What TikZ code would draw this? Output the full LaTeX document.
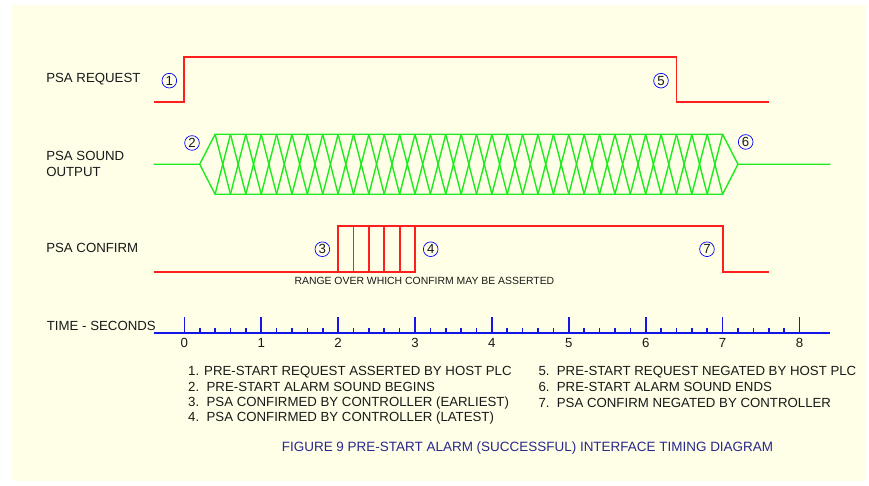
\documentclass[tikz,border=0pt]{standalone}
\usepackage{fontspec}
\setmainfont{Liberation Sans}
\definecolor{paper}{RGB}{255,255,232}
\definecolor{sigred}{RGB}{255,30,30}
\definecolor{siggreen}{RGB}{30,235,30}
\definecolor{axisblue}{RGB}{20,20,235}
\definecolor{captionblue}{RGB}{40,40,140}

\begin{document}
\begin{tikzpicture}[x=2.307cm, y=2.307cm,
	every node/.style={font=\fontsize{11.3}{14}\selectfont, text=black!90, inner sep=0pt},
	event/.style={circle, draw=blue, line width=0.6pt, minimum size=0.44cm},
	redsig/.style={sigred, line width=1.6pt},
	greensig/.style={siggreen, line width=1.2pt},
	tickmark/.style={axisblue, line width=1.4pt}]
	\useasboundingbox (-2.397,-1.994) rectangle (8.904,4.326);
	\fill[paper] (-2.24,-1.93) rectangle (8.864,4.264);
	\node[anchor=west] (lreq) at (-1.798,3.30) {PSA REQUEST};
	\node[anchor=west, align=left, font=\fontsize{11.3}{13.8}\selectfont] (lsnd) at (-1.798,2.19) {PSA SOUND\\OUTPUT};
	\node[anchor=west] (lcnf) at (-1.798,1.10) {PSA CONFIRM};
	\node[anchor=west] (ltime) at (-1.790,0.091) {TIME - SECONDS};
	\draw[redsig] (-0.4,3.0) -- (0,3.0) -- (0,3.58) -- (6.4,3.58) -- (6.4,3.0) -- (7.6,3.0);
	\draw[greensig] (-0.4,2.19) -- (0.2,2.19) -- (0.4,2.58) -- (7.0,2.58) -- (7.2,2.19) -- (8.4,2.19);
	\draw[greensig] (0.2,2.19) -- (0.4,1.80) -- (7.0,1.80) -- (7.2,2.19);
	\foreach \k in {0,...,32} {
		\pgfmathsetmacro{\ta}{0.4+0.2*\k}
		\pgfmathsetmacro{\tb}{0.6+0.2*\k}
		\draw[greensig] (\ta,2.58) -- (\tb,1.80);
		\draw[greensig] (\ta,1.80) -- (\tb,2.58);
	}
	\draw[redsig] (-0.4,0.79) -- (3.0,0.79) -- (3.0,1.39);
	\draw[redsig] (2.0,0.79) -- (2.0,1.39) -- (7.0,1.39) -- (7.0,0.79) -- (7.6,0.79);
	\foreach \x in {2.2, 2.4, 2.6, 2.8}
		\draw[redsig] (\x,0.79) -- (\x,1.39);
	\node[font=\fontsize{8.9}{10}\selectfont] (range) at (3.122,0.672) {RANGE OVER WHICH CONFIRM MAY BE ASSERTED};
	\node[event] (ev1) at (-0.195,3.277) {1};
	\node[event] (ev2) at (0.100,2.467) {2};
	\node[event] (ev3) at (1.795,1.085) {3};
	\node[event] (ev4) at (3.204,1.085) {4};
	\node[event] (ev5) at (6.199,3.277) {5};
	\node[event] (ev6) at (7.300,2.480) {6};
	\node[event] (ev7) at (6.797,1.085) {7};
	\draw[axisblue, line width=1.6pt] (-0.4,0) -- (8.4,0);
	\foreach \t in {0,...,8} {
		\draw[tickmark] (\t,0) -- (\t,0.2);
		\node (num\t) at (\t,-0.13) {\t};
	}
	\foreach \t in {0,...,7}
		\foreach \f in {0.2,0.4,0.6,0.8}
			\draw[tickmark] (\t+\f,0) -- (\t+\f,0.06);
	\node[anchor=west] (note1) at (0.048,-0.511) {1. PRE-START REQUEST ASSERTED BY HOST PLC};
	\node[anchor=west] (note2) at (0.048,-0.711) {2.\ \ PRE-START ALARM SOUND BEGINS};
	\node[anchor=west] (note3) at (0.048,-0.911) {3.\ \ PSA CONFIRMED BY CONTROLLER (EARLIEST)};
	\node[anchor=west] (note4) at (0.048,-1.111) {4.\ \ PSA CONFIRMED BY CONTROLLER (LATEST)};
	\node[anchor=west] (note5) at (4.603,-0.511) {5.\ \ PRE-START REQUEST NEGATED BY HOST PLC};
	\node[anchor=west] (note6) at (4.603,-0.711) {6.\ \ PRE-START ALARM SOUND ENDS};
	\node[anchor=west] (note7) at (4.603,-0.911) {7.\ \ PSA CONFIRM NEGATED BY CONTROLLER};
	\node[text=captionblue, font=\fontsize{11.5}{14}\selectfont] (caption) at (4.463,-1.50) {FIGURE 9 PRE-START ALARM (SUCCESSFUL) INTERFACE TIMING DIAGRAM};
\end{tikzpicture}
\end{document}
